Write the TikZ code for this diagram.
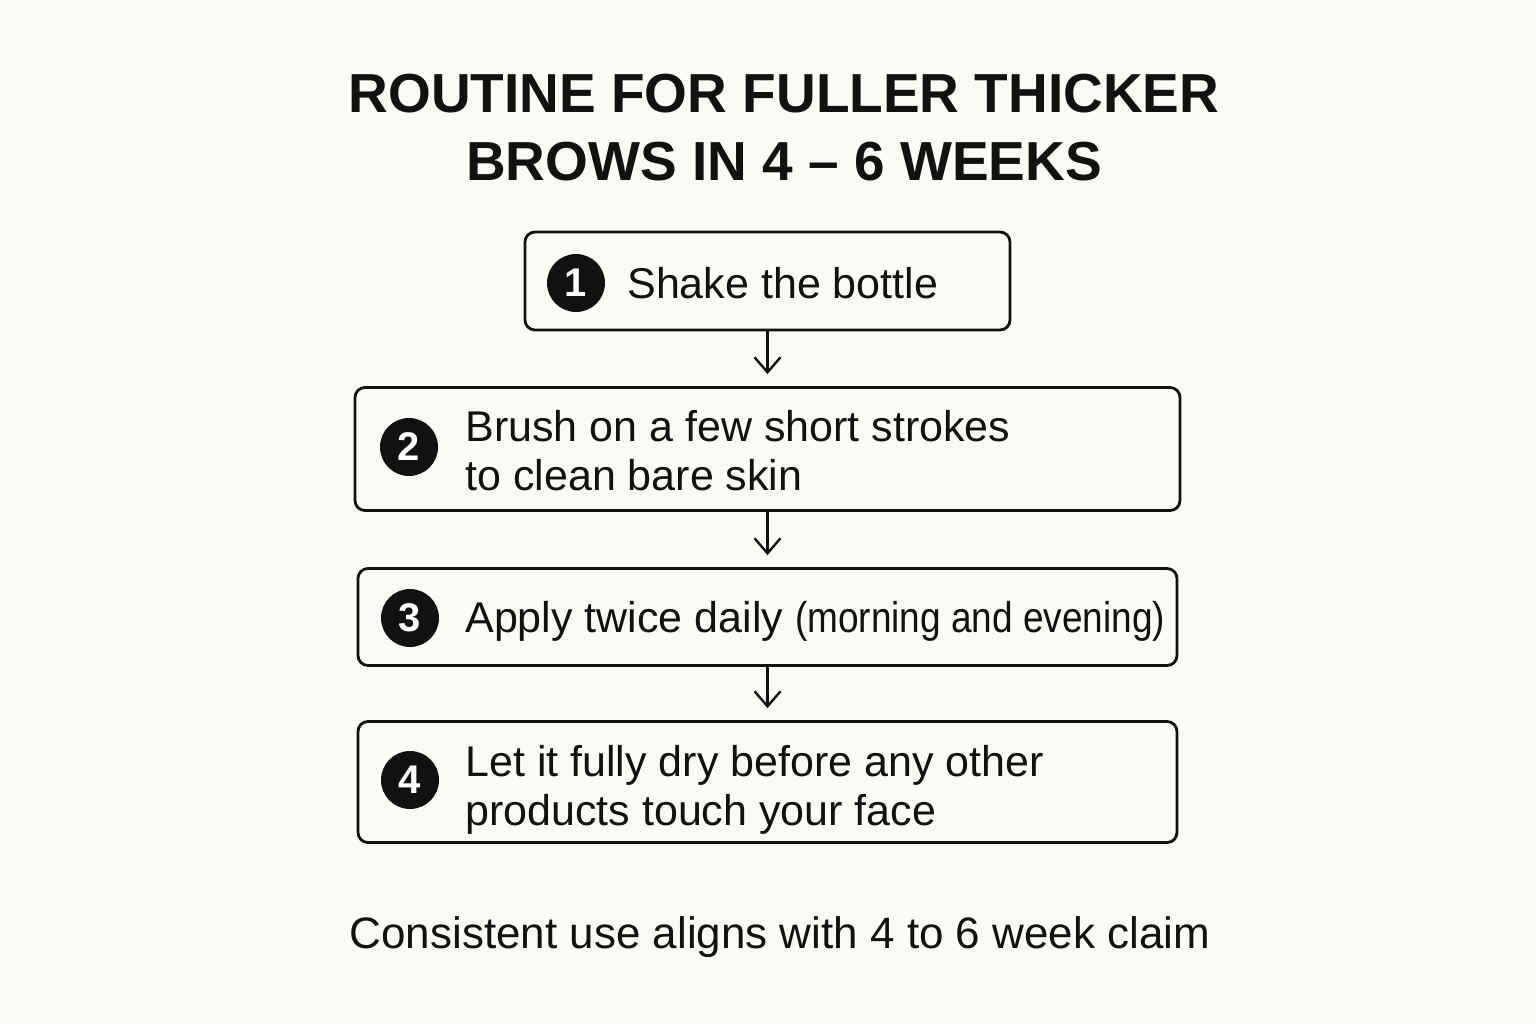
\documentclass[tikz,border=0pt]{standalone}
\usepackage{fontspec}
\setmainfont{Liberation Sans}
\usepackage{graphicx}
\usetikzlibrary{arrows.meta}
\definecolor{paper}{HTML}{FBFAF5}
\definecolor{ink}{HTML}{111111}
\begin{document}
\begin{tikzpicture}[
          x=0.5pt, y=-0.5pt,
          stepbox/.style={draw=ink, line width=1.4pt, rounded corners=5pt, inner sep=0pt},
          stepnum/.style={circle, fill=ink, text=white, inner sep=0pt, minimum size=29pt,
            font=\fontsize{20}{20}\selectfont\bfseries},
          steptext/.style={anchor=base west, inner sep=0pt, text=ink, align=left,
            font=\fontsize{21.5}{24.5}\selectfont},
          flow/.style={draw=ink, line width=1.2pt, shorten >=6pt,
            -{Straight Barb[length=7.5pt, width=13pt]}}
        ]
        \fill[paper] (0,0) rectangle (1536,1024);
        \node[text=ink, align=center, inner sep=0pt, anchor=base,
          font=\fontsize{27.5}{34}\selectfont\bfseries] (title) at (784,180)
          {ROUTINE FOR FULLER THICKER\\BROWS IN 4 -- 6 WEEKS};
        \node[stepbox, minimum width=242.5pt, minimum height=49pt] (b1) at (767.5,281) {};
        \node[stepbox, minimum width=412.5pt, minimum height=61.5pt] (b2) at (767.5,449) {};
        \node[stepbox, minimum width=409.5pt, minimum height=48.5pt] (b3) at (767.5,617) {};
        \node[stepbox, minimum width=409.5pt, minimum height=60.5pt] (b4) at (767.5,782) {};
        \node[stepnum] (n1) at (576,283) {1};
        \node[stepnum] (n2) at (409,447) {2};
        \node[stepnum] (n3) at (410,618) {3};
        \node[stepnum] (n4) at (410,780) {4};
        \node[steptext] (t1) at (627,298) {Shake the bottle};
        \node[steptext] (t2) at (465,490) {Brush on a few short strokes\\to clean bare skin};
        \node[steptext] (t3) at (465,632)
          {Apply twice daily \scalebox{0.86}[1]{(morning and evening)}};
        \node[steptext] (t4) at (465,825)
          {Let it fully dry before any other\\products touch your face};
        \draw[flow] (b1) -- (b2);
        \draw[flow] (b2) -- (b3);
        \draw[flow] (b3) -- (b4);
        \node[text=ink, inner sep=0pt, anchor=base, font=\fontsize{22}{26}\selectfont]
          (claim) at (780,948) {Consistent use aligns with 4 to 6 week claim};
        \end{tikzpicture}
\end{document}
